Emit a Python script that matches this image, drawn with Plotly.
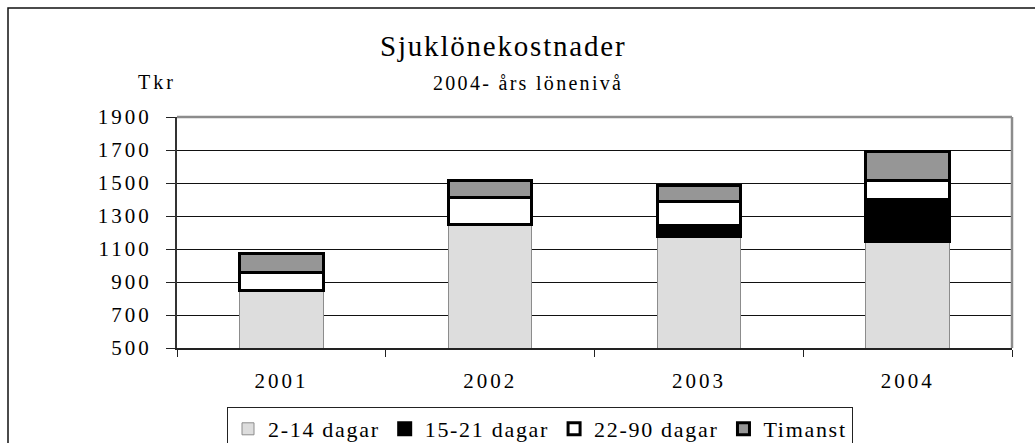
import plotly.graph_objects as go

years = ["2001", "2002", "2003", "2004"]
d2_14 = [850, 1250, 1175, 1145]
d15_21 = [0, 0, 70, 252]
d22_90 = [105, 163, 140, 121]
timanst = [120, 105, 100, 172]
y_ticks = [500, 700, 900, 1100, 1300, 1500, 1700, 1900]
series_names = ["2-14 dagar", "15-21 dagar", "22-90 dagar", "Timanst"]

FONT = "Liberation Serif, Times New Roman, serif"


def spaced(text, px):
    return '<span style="letter-spacing:%spx">%s</span>' % (px, text)


fig = go.Figure()
styles = [
    dict(color="#DDDDDD", line=dict(color="#8C8C8C", width=1)),
    dict(color="#000000", line=dict(color="#000000", width=3)),
    dict(color="#FFFFFF", line=dict(color="#000000", width=3)),
    dict(color="#969696", line=dict(color="#000000", width=3)),
]
for name, vals, st in zip(series_names, [d2_14, d15_21, d22_90, timanst], styles):
    fig.add_trace(go.Bar(name=spaced(name, 1.7), x=years, y=vals, marker=st))

L, R, T, B = 177, 1012, 117, 348
W, H = 1035, 443
pw, ph = R - L, B - T


def px_x(x):
    return (x - L) / pw


def px_y(y):
    return (B - y) / ph


fig.update_layout(
    width=W, height=H,
    barmode="stack", bargap=0.6,
    margin=dict(l=L, r=W - R, t=T, b=H - B, autoexpand=False),
    paper_bgcolor="white", plot_bgcolor="white",
    font=dict(family=FONT, color="black", size=21),
    showlegend=True,
    legend=dict(orientation="h", x=px_x(540), xanchor="center",
                y=px_y(407), yanchor="top",
                bordercolor="#222222", borderwidth=1,
                font=dict(family=FONT, size=22), traceorder="normal",
                itemwidth=30),
    xaxis=dict(type="category", showline=True, linecolor="#222222", linewidth=2,
               ticks="outside", tickson="boundaries", ticklen=7, tickcolor="#222222",
               tickwidth=1, showgrid=False, tickfont=dict(family=FONT, size=21),
               tickvals=years, ticktext=[spaced(y, 3) for y in years],
               ticklabelstandoff=13),
    yaxis=dict(range=[500, 1900], tickvals=y_ticks,
               ticktext=[spaced(str(v), 3) for v in y_ticks], showline=True,
               linecolor="#333333", linewidth=2, ticks="outside", ticklen=9,
               tickcolor="#222222", tickwidth=1, showgrid=True, gridcolor="#111111",
               gridwidth=1, tickfont=dict(family=FONT, size=21),
               ticklabelstandoff=10, zeroline=False),
    shapes=[
        dict(type="rect", xref="paper", yref="paper",
             x0=px_x(8), x1=px_x(1045), y0=px_y(460), y1=px_y(8),
             line=dict(color="#111111", width=1.5), layer="below"),
        dict(type="line", xref="paper", yref="paper", x0=0, x1=1, y0=1, y1=1,
             line=dict(color="#8C8C8C", width=2.5)),
        dict(type="line", xref="paper", yref="paper", x0=1, x1=1, y0=0, y1=1,
             line=dict(color="#8C8C8C", width=2.5)),
    ],
    annotations=[
        dict(text=spaced("Sjuklönekostnader", 1.8), xref="paper", yref="paper",
             x=px_x(503), y=px_y(46), xanchor="center", yanchor="middle",
             showarrow=False, font=dict(family=FONT, size=29)),
        dict(text=spaced("2004- års lönenivå", 2.3), xref="paper", yref="paper",
             x=px_x(528), y=px_y(83), xanchor="center", yanchor="middle",
             showarrow=False, font=dict(family=FONT, size=20)),
        dict(text=spaced("Tkr", 3), xref="paper", yref="paper",
             x=px_x(157), y=px_y(82), xanchor="center", yanchor="middle",
             showarrow=False, font=dict(family=FONT, size=20)),
    ],
)

fig.write_html("out.html", config={"displayModeBar": False},
               post_script="document.body.style.margin='0';")
